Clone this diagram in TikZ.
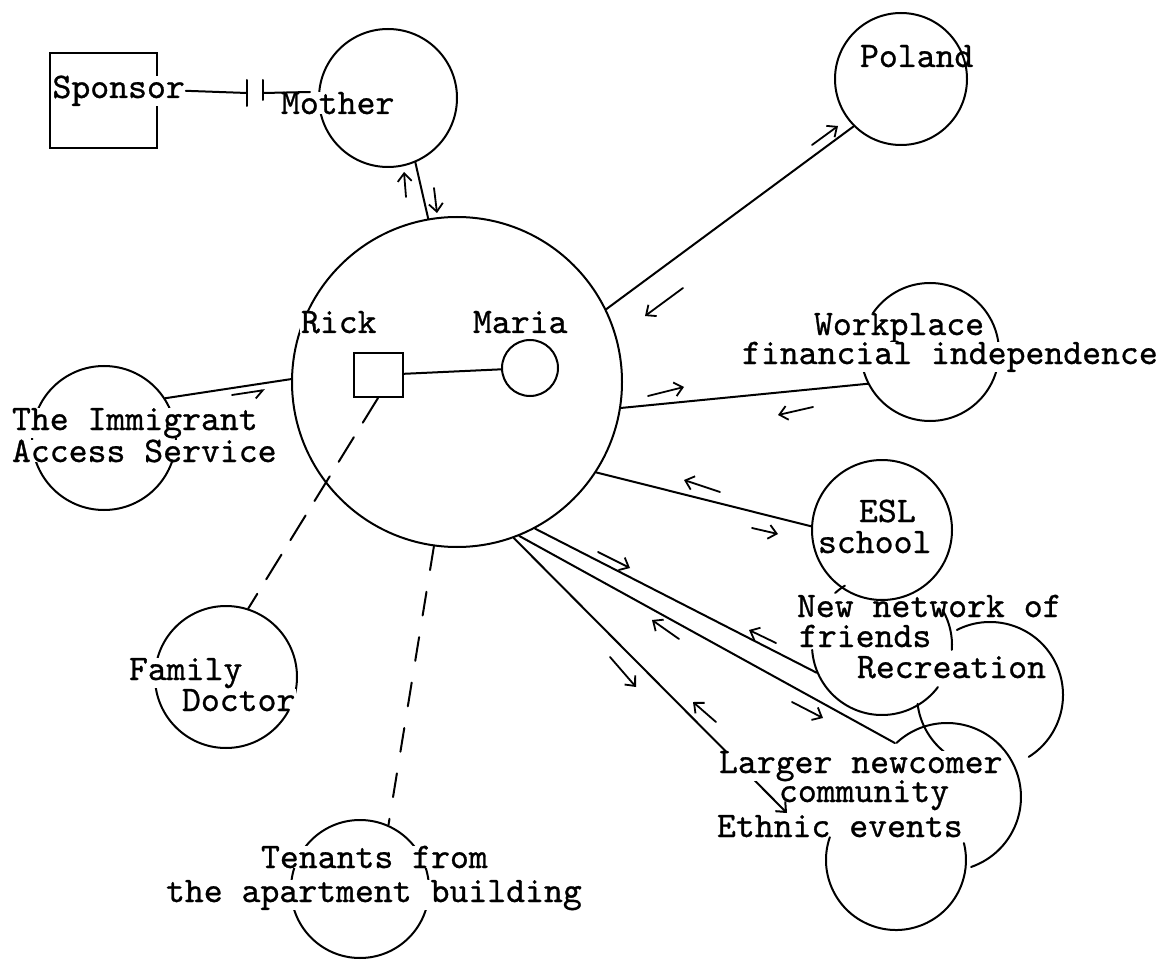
\documentclass[tikz,border=0pt]{standalone}
\usepackage{fontspec}
\newfontfamily\typewriter{lmmono10-regular.otf}[FakeBold=0.8]
\usetikzlibrary{arrows.meta,calc}
\tikzset{
  circ/.style={circle, draw, inner sep=0pt},
  anch/.style={circle, inner sep=0pt},
  lbl/.style={font=\typewriter\fontsize{36}{31}\selectfont, inner xsep=1pt, inner ysep=0pt, anchor=base west},
  blank/.style={lbl, fill=white},
  dirarrow/.style={line width=1.8pt, -{Straight Barb[length=8pt, width=14pt]}},
  halfarrow/.style={line width=1.8pt, -{Straight Barb[length=8pt, width=14pt, right]}},
  dashA/.style={dash pattern=on 29pt off 17pt},
  dashB/.style={dash pattern=on 24pt off 22pt}
}
\begin{document}
\begin{tikzpicture}[x=1pt, y=-1pt, line width=2pt, line cap=round]
\fill[white] (0,0) rectangle (1171,960);
\useasboundingbox (0,0) rectangle (1171,960);

% household and outside systems
\node[circ, minimum size=330pt] (fam) at (457,382) {};
\node[circ, minimum size=138pt] (mother) at (388,98) {};
\node[circ, minimum size=132pt] (poland) at (901,79) {};
\node[circ, minimum size=138pt] (work) at (930,352) {};
\node[circ, minimum size=140pt] (esl) at (882,530) {};
\node[circ, minimum size=144pt] (ias) at (104,438) {};
\node[circ, minimum size=142pt] (doctor) at (226,677) {};
\node[circ, minimum size=138pt] (tenants) at (360,889) {};
\node[circ, minimum size=56pt] (maria) at (530,368) {};
\node[draw, minimum width=49pt, minimum height=44pt, inner sep=0pt] (rick) at (378,375) {};
\node[draw, minimum width=107pt, minimum height=95pt, inner sep=0pt] (sponsorbox) at (103.5,100.5) {};

% overlapping group of circles (only the outer arcs are drawn)
\node[anch, minimum size=140pt] (friends) at (882,645) {};
\node[anch, minimum size=146pt] (recre) at (990,695) {};
\node[anch, minimum size=148pt] (newc) at (947,797) {};
\node[anch, minimum size=140pt] (ethnic) at (896,860) {};
\draw (friends.center) ++(176:70) arc[start angle=176, end angle=37, radius=70];
\draw (friends.center) ++(-30:70) arc[start angle=-30, end angle=4, radius=70];
\draw (friends.center) ++(-132:70) arc[start angle=-132, end angle=-122, radius=70];
\draw (recre.center) ++(-117:73) arc[start angle=-117, end angle=58, radius=73];
\draw (recre.center) ++(173:73) arc[start angle=173, end angle=129, radius=73];
\draw (newc.center) ++(-133:74) arc[start angle=-133, end angle=71, radius=74];
\draw (ethnic.center) ++(199:70) arc[start angle=199, end angle=-14, radius=70];

% connections
\draw (mother.-67) -- (fam.100.7);
\draw (fam.26) -- (poland.-135);
\draw (fam.-9.6) -- (work.207);
\draw (fam.-33.6) -- (esl.177);
\draw (fam.-62.7) -- (friends.203.5);
\draw (fam.-68.3) -- (newc.134);
\coordinate (ctip) at (787,813);
\draw[-{Straight Barb[length=8pt, width=14pt]}] (fam.-70.8) -- (ctip);
\draw (ias.33) -- (fam.179.3);
\draw (rick) -- (maria);
\draw[dashA] (rick.south) -- (doctor.72);
\draw[dashB] (fam.-98.7) -- (tenants.66);

% flow directions
\draw[dirarrow] (406,197) -- (404,172);
\draw[dirarrow] (434,188) -- (437,213);
\draw[dirarrow] (812,145) -- (838,126);
\draw[dirarrow] (683,288) -- (645,316);
\draw[dirarrow] (648,396) -- (684,387);
\draw[dirarrow] (813,407) -- (778,415);
\draw[dirarrow] (720,492) -- (684,480);
\draw[dirarrow] (752,528) -- (778,534);
\draw[dirarrow] (598,552) -- (630,568);
\draw[dirarrow] (776,643) -- (749,630);
\draw[dirarrow] (679,639) -- (652,620);
\draw[dirarrow] (792,702) -- (823,718);
\draw[dirarrow] (610,657) -- (636,687);
\draw[dirarrow] (716,722) -- (693,702);
\draw[halfarrow] (232,395) -- (265,390);

% labels
\node[blank, inner xsep=0pt] (sponsor) at (51.5,98) {Sponsor};
\node[blank] (mothert) at (279,114) {Mother};
\node[lbl] (polandt) at (858,67) {Poland};
\node[blank] (rickt) at (299,333) {Rick};
\node[lbl] (mariat) at (471,333) {Maria};
\node[blank] (workt) at (812,335) {Workplace};
\node[blank] (fint) at (740,364) {financial independence};
\node[lbl] (eslt) at (857,522) {ESL};
\node[lbl] (schoolt) at (816,553) {school};
\node[lbl] (newt) at (795,617) {New network of};
\node[lbl] (friendst) at (797,647) {friends};
\node[lbl] (recret) at (855,678) {Recreation};
\node[blank] (largert) at (717,773) {Larger newcomer};
\node[lbl] (commt) at (777,802) {community};
\node[lbl] (ethnict) at (715,837) {Ethnic events};
\node[blank] (iast1) at (10,430) {The Immigrant};
\node[blank] (iast2) at (10,462) {Access Service};
\node[blank] (famt) at (127,680) {Family};
\node[blank] (doct) at (180,711) {Doctor};
\node[blank] (tent1) at (259,868) {Tenants from};
\node[blank] (tent2) at (164,902) {the apartment building};

% broken tie between sponsor and mother
\coordinate (cutL) at (247,93);
\coordinate (cutR) at (263,93);
\coordinate (mend) at (310,92);
\draw (sponsor.east) -- (cutL);
\draw (cutR) -- (mend);
\draw (247,80) -- (247,106);
\draw (263,80) -- (263,100);
\end{tikzpicture}
\end{document}
